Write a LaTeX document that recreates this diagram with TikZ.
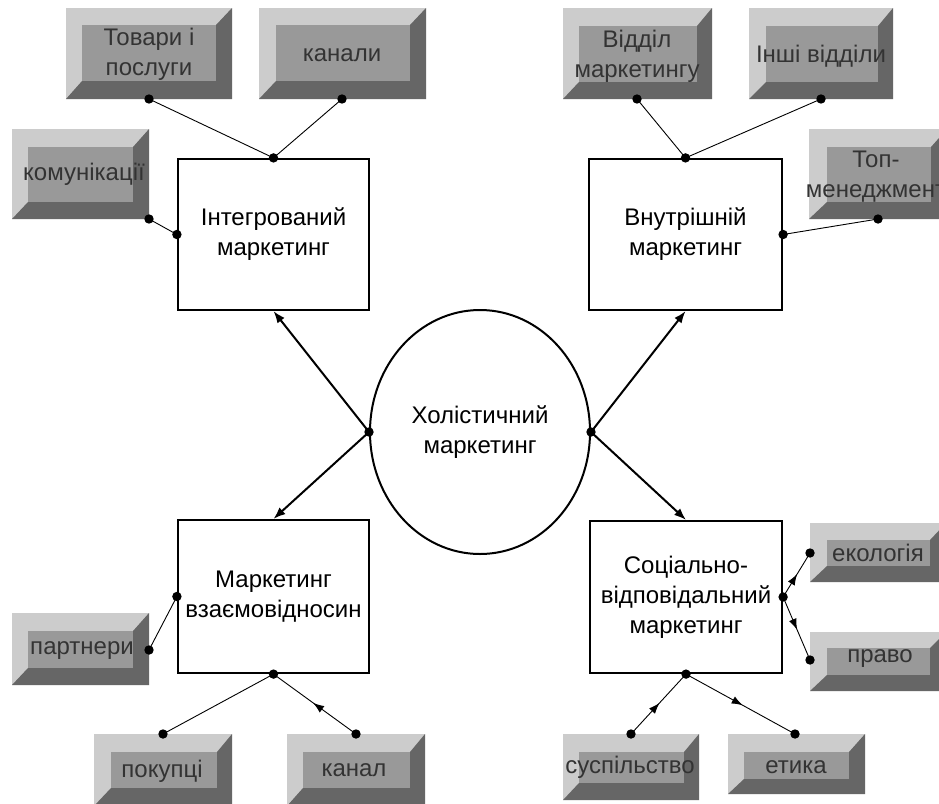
\documentclass[tikz,border=0pt]{standalone}
\usepackage{fontspec}
\setmainfont{Liberation Sans}
\usetikzlibrary{arrows.meta,decorations.markings,shapes.geometric}
\definecolor{bvlight}{RGB}{204,204,204}
\definecolor{bvmid}{RGB}{153,153,153}
\definecolor{bvdark}{RGB}{102,102,102}
\definecolor{bvtext}{RGB}{51,51,51}
\newcommand\bev[8]{%
 \fill[bvlight] (#1,#2) rectangle (#3,#4);
 \fill[bvdark] (#3,#2) -- (#3,#4) -- (#1,#4) -- (#5,#8) -- (#7,#8) -- (#7,#6) -- cycle;
 \fill[bvmid] (#5,#6) rectangle (#7,#8);}
\begin{document}
\begin{tikzpicture}[x=1pt,y=-1pt,
 lbl/.style={font=\fontsize{24}{30}\selectfont, align=center, inner sep=0pt},
 btxt/.style={lbl, text=bvtext},
 mainbox/.style={lbl, draw, line width=2.2pt, fill=white},
 thinln/.style={line width=0.9pt},
 bigarr/.style={line width=2pt, -{Latex[length=12pt,width=9pt]}},
 midarr/.style={thinln, postaction={decorate}, decoration={markings, mark=at position 0.52 with {\arrow{Latex[length=11pt,width=8pt]}}}},
]
\useasboundingbox (0,0) rectangle (939,803);
\clip (0,0) rectangle (939,803);
\fill[white] (0,0) rectangle (939,803);

% bevel boxes
\bev{66}{8}{232}{99}{82}{25}{216}{81}
\bev{259}{8}{426}{99}{276}{25}{410}{81}
\bev{563}{8}{712}{99}{579}{26}{697}{82}
\bev{749}{8}{893}{99}{766}{26}{878}{82}
\bev{12}{129}{149}{219}{28}{147}{133}{202}
\bev{809}{129}{947}{219}{827}{147}{931}{202}
\bev{12}{613}{149}{685}{28}{631}{133}{668}
\bev{810}{523}{946}{582}{827}{540}{930}{566}
\bev{810}{632}{946}{691}{827}{648}{930}{675}
\bev{94}{734}{232}{806}{111}{752}{217}{788}
\bev{287}{734}{425}{806}{303}{752}{410}{788}
\bev{563}{734}{699}{800}{579}{752}{684}{783}
\bev{728}{734}{865}{794}{744}{752}{849}{779}

\node[btxt] (tov) at (149,54) {Товари і\\послуги};
\node[btxt] (kan) at (342,55) {канали};
\node[btxt] (vid) at (637,56) {Відділ\\маркетингу};
\node[btxt] (insh) at (821,56) {Інші відділи};
\node[btxt] (kom) at (84,174) {комунікації};
\node[btxt] (top) at (876,177) {Топ-\\менеджмент};
\node[btxt] (part) at (82,651) {партнери};
\node[btxt] (eko) at (878,553) {екологія};
\node[btxt] (pravo) at (880,659) {право};
\node[btxt] (pok) at (162,771) {покупці};
\node[btxt] (kanal) at (354,770) {канал};
\node[btxt] (susp) at (630,767) {суспільство};
\node[btxt] (et) at (796,767) {етика};

% main nodes
\node[mainbox, minimum width=191pt, minimum height=151pt] (int) at (273.5,234.5) {Інтегрований\\маркетинг};
\node[mainbox, minimum width=193pt, minimum height=151pt] (ins) at (685.5,234.5) {Внутрішній\\маркетинг};
\node[mainbox, minimum width=191pt, minimum height=153pt] (rel) at (273.5,596.5) {Маркетинг\\взаємовідносин};
\node[mainbox, minimum width=192pt, minimum height=152pt] (soc) at (686,597) {Соціально-\\відповідальний\\маркетинг};
\node[lbl, ellipse, draw, line width=2pt, minimum width=220pt, minimum height=244pt] (hol) at (480,432) {Холістичний\\маркетинг};

% connector end points
\coordinate (tovd) at (149,99);
\coordinate (kand) at (342,99);
\coordinate (vidd) at (637,99);
\coordinate (inshd) at (821,99);
\coordinate (komd) at (149,219);
\coordinate (topd) at (878,219);
\coordinate (partd) at (149,650);
\coordinate (ekod) at (810,553);
\coordinate (pravod) at (810,660);
\coordinate (pokd) at (163,734);
\coordinate (kanald) at (356,734);
\coordinate (suspd) at (631,734);
\coordinate (etd) at (795,734);

% main arrows
\draw[bigarr] (hol.west) -- (int.south);
\draw[bigarr] (hol.west) -- (rel.north);
\draw[bigarr] (hol.east) -- (ins.south);
\draw[bigarr] (hol.east) -- (soc.north);

% thin connectors
\draw[thinln] (tovd) -- (int.north);
\draw[thinln] (kand) -- (int.north);
\draw[thinln] (komd) -- (int.west);
\draw[thinln] (vidd) -- (ins.north);
\draw[thinln] (inshd) -- (ins.north);
\draw[thinln] (topd) -- (ins.east);
\draw[thinln] (partd) -- (rel.west);
\draw[thinln] (pokd) -- (rel.south);
\draw[midarr] (kanald) -- (rel.south);
\draw[midarr] (soc.east) -- (ekod);
\draw[midarr] (soc.east) -- (pravod);
\draw[midarr] (suspd) -- (soc.south);
\draw[midarr] (soc.south) -- (etd);

% dots
\foreach \c in {tovd,kand,vidd,inshd,komd,topd,partd,ekod,pravod,pokd,kanald,suspd,etd,
  hol.west,hol.east,int.north,int.west,ins.north,ins.east,rel.west,rel.south,soc.east,soc.south}
  \fill (\c) circle[radius=4.7pt];
\end{tikzpicture}
\end{document}
